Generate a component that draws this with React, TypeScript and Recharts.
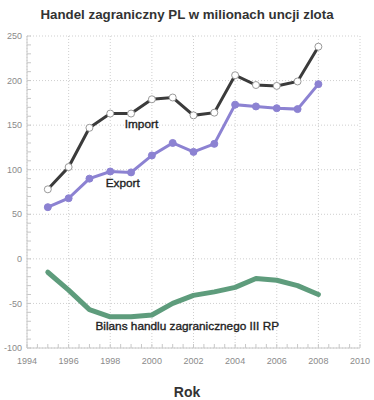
import { LineChart, Line, XAxis, YAxis, CartesianGrid, ReferenceDot } from "recharts";

const years = [1995, 1996, 1997, 1998, 1999, 2000, 2001, 2002, 2003, 2004, 2005, 2006, 2007, 2008];
const importValues = [78, 103, 147, 163, 163, 179, 181, 161, 164, 206, 195, 194, 199, 238];
const exportValues = [58, 68, 90, 98, 97, 116, 130, 120, 129, 173, 171, 169, 168, 196];
const balanceValues = [-15, -35, -57, -65, -65, -63, -50, -41, -37, -32, -22, -24, -30, -40];

const xMajor = [1994, 1996, 1998, 2000, 2002, 2004, 2006, 2008, 2010];
const xMinor = Array.from({ length: 33 }, (_, i) => 1994 + i * 0.5);
const yMajor = [-100, -50, 0, 50, 100, 150, 200, 250];
const yMinor = Array.from({ length: 36 }, (_, i) => -100 + i * 10);

const data = years.map((year, i) => ({
  year,
  import: importValues[i],
  export: exportValues[i],
  balance: balanceValues[i],
}));

const FONT = "'Liberation Sans', Arial, sans-serif";
const frame = "#c8c8c8";

const XTick = (props: any) => {
  const { x, y, payload } = props;
  if (!xMajor.includes(payload.value)) return <g />;
  return (
    <text x={x} y={y} dy="0.71em" textAnchor="middle" fill="#8a8a8a" fontSize={9} fontFamily={FONT}>
      {payload.value}
    </text>
  );
};

const YTick = (props: any) => {
  const { x, y, payload } = props;
  if (!yMajor.includes(payload.value)) return <g />;
  return (
    <text x={x} y={y} dy="0.35em" textAnchor="end" fill="#8a8a8a" fontSize={9} fontFamily={FONT}>
      {payload.value}
    </text>
  );
};

const labelStyle = {
  fill: "#222",
  stroke: "#222",
  strokeWidth: 0.35,
  fontSize: 11.8,
  fontFamily: FONT,
  fontWeight: 400,
};

export default function App() {
  return (
    <div style={{ position: "absolute", left: 0, top: 0, width: 374, height: 400, background: "#fff" }}>
      <div
        style={{
          position: "absolute",
          top: 7,
          width: 374,
          textAlign: "center",
          fontFamily: FONT,
          fontWeight: "bold",
          fontSize: 13.3,
          color: "#333",
        }}
      >
        Handel zagraniczny PL w milionach uncji zlota
      </div>
      <div
        style={{
          position: "absolute",
          top: 384,
          left: 0,
          width: 374,
          textAlign: "center",
          fontFamily: FONT,
          fontWeight: "bold",
          fontSize: 14,
          color: "#333",
        }}
      >
        Rok
      </div>
      <LineChart width={374} height={400} data={data} margin={{ top: 36, right: 14, left: 0, bottom: 0 }}>
        <CartesianGrid
          stroke="#cfcfcf"
          strokeDasharray="1 2"
          horizontalValues={yMajor}
          verticalValues={xMajor}
        />
        <XAxis
          dataKey="year"
          type="number"
          domain={[1994, 2010]}
          ticks={xMinor}
          interval={0}
          height={52}
          tickSize={-4}
          tickMargin={14}
          tickLine={{ stroke: frame }}
          axisLine={{ stroke: frame }}
          tick={<XTick />}
        />
        <XAxis
          xAxisId="top"
          orientation="top"
          type="number"
          domain={[1994, 2010]}
          ticks={xMinor}
          interval={0}
          height={0}
          tickSize={-4}
          tickLine={{ stroke: frame }}
          axisLine={{ stroke: frame }}
          tick={() => <g />}
        />
        <YAxis
          type="number"
          domain={[-100, 250]}
          ticks={yMinor}
          interval={0}
          width={27}
          tickSize={-4}
          tickMargin={9}
          tickLine={{ stroke: frame }}
          axisLine={{ stroke: frame }}
          tick={<YTick />}
        />
        <YAxis
          yAxisId="right"
          orientation="right"
          type="number"
          domain={[-100, 250]}
          ticks={yMinor}
          interval={0}
          width={0}
          tickSize={-4}
          tickLine={{ stroke: frame }}
          axisLine={{ stroke: frame }}
          tick={() => <g />}
        />
        <Line
          type="linear"
          dataKey="balance"
          stroke="#5e9c7c"
          strokeWidth={5}
          strokeLinejoin="round"
          strokeLinecap="round"
          dot={false}
          isAnimationActive={false}
        />
        <Line
          type="linear"
          dataKey="export"
          stroke="#8c82d2"
          strokeWidth={3}
          dot={{ r: 3.5, fill: "#8c82d2", stroke: "#8c82d2", strokeWidth: 1 }}
          isAnimationActive={false}
        />
        <Line
          type="linear"
          dataKey="import"
          stroke="#3b3b3b"
          strokeWidth={3}
          dot={{ r: 3.5, fill: "#fff", stroke: "#999", strokeWidth: 1 }}
          isAnimationActive={false}
        />
        <ReferenceDot x={1999.5} y={152} r={0} label={{ value: "Import", position: "center", ...labelStyle }} />
        <ReferenceDot x={1998.6} y={85} r={0} label={{ value: "Export", position: "center", ...labelStyle }} />
        <ReferenceDot
          x={2001.7}
          y={-75}
          r={0}
          label={{ value: "Bilans handlu zagranicznego III RP", position: "center", ...labelStyle }}
        />
      </LineChart>
    </div>
  );
}
